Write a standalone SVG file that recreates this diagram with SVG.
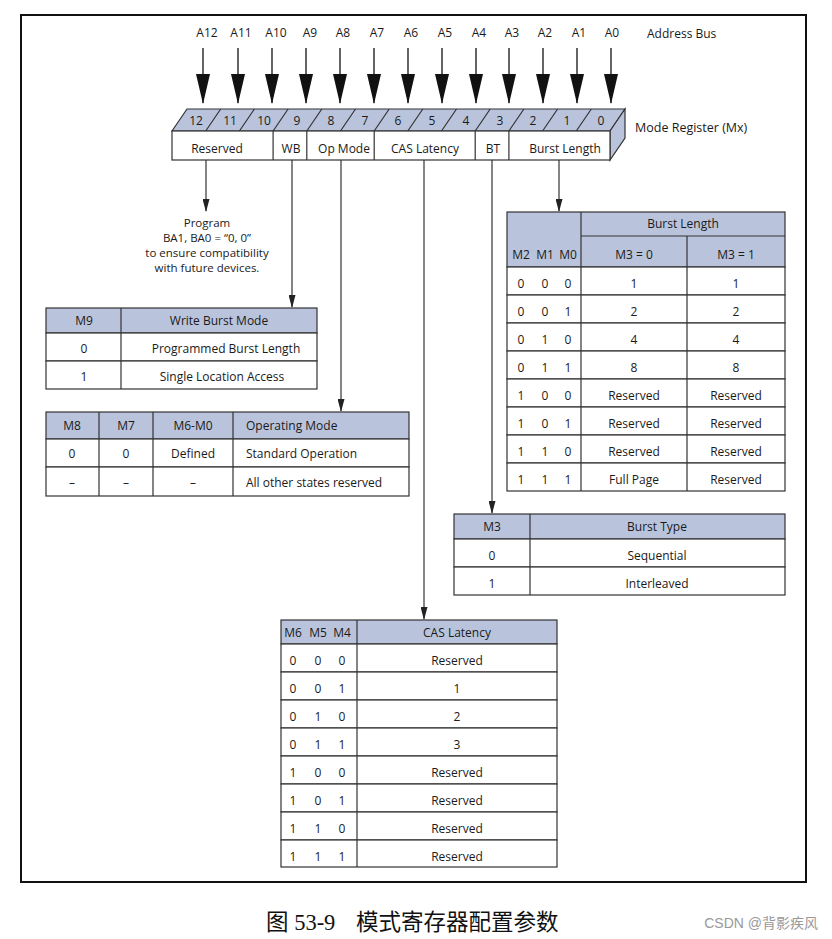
<svg xmlns="http://www.w3.org/2000/svg" width="832" height="939" viewBox="0 0 832 939">
<defs>
<style>
text{font-family:"Open Sans","Noto Sans","Liberation Sans",sans-serif;font-size:12px;fill:#1a1a1a;}
.c{text-anchor:middle;}
.hd{fill:#b9c4dc;stroke:#333;stroke-width:1.2;}
.cell{fill:#fff;stroke:#333;stroke-width:1.2;}
.ln{stroke:#333;stroke-width:1.2;fill:none;}
.ab{stroke:#111;stroke-width:1.3;}
.cap{font-family:"Liberation Serif","Noto Sans CJK SC",serif;font-size:22.5px;fill:#111;}
.note{font-size:11.5px;}
</style>
<marker id="bh" markerUnits="userSpaceOnUse" markerWidth="30" markerHeight="14" refX="29" refY="7" orient="auto" viewBox="0 0 30 14">
<path d="M0,0 L30,7 L0,14 Z" fill="#111"/>
</marker>
<marker id="sh" markerUnits="userSpaceOnUse" markerWidth="13" markerHeight="7" refX="12" refY="3.5" orient="auto" viewBox="0 0 13 7">
<path d="M0,0 L13,3.5 L0,7 Z" fill="#222"/>
</marker>
</defs>
<rect x="0" y="0" width="832" height="939" fill="#fff"/>
<rect x="21" y="15" width="785" height="867" fill="none" stroke="#111" stroke-width="2"/>

<g id="address-bus">
<text x="207" y="37" class="c">A12</text>
<text x="241" y="37" class="c">A11</text>
<text x="276" y="37" class="c">A10</text>
<text x="310" y="37" class="c">A9</text>
<text x="343" y="37" class="c">A8</text>
<text x="377" y="37" class="c">A7</text>
<text x="411" y="37" class="c">A6</text>
<text x="445" y="37" class="c">A5</text>
<text x="479" y="37" class="c">A4</text>
<text x="512" y="37" class="c">A3</text>
<text x="545" y="37" class="c">A2</text>
<text x="579" y="37" class="c">A1</text>
<text x="612" y="37" class="c">A0</text>
<text x="647" y="38">Address Bus</text>
</g>

<g id="bus-arrows">
<line class="ab" x1="203" y1="48" x2="203" y2="103" marker-end="url(#bh)"/>
<line class="ab" x1="238" y1="48" x2="238" y2="103" marker-end="url(#bh)"/>
<line class="ab" x1="272" y1="48" x2="272" y2="103" marker-end="url(#bh)"/>
<line class="ab" x1="306" y1="48" x2="306" y2="103" marker-end="url(#bh)"/>
<line class="ab" x1="340" y1="48" x2="340" y2="103" marker-end="url(#bh)"/>
<line class="ab" x1="374" y1="48" x2="374" y2="103" marker-end="url(#bh)"/>
<line class="ab" x1="408" y1="48" x2="408" y2="103" marker-end="url(#bh)"/>
<line class="ab" x1="442" y1="48" x2="442" y2="103" marker-end="url(#bh)"/>
<line class="ab" x1="476" y1="48" x2="476" y2="103" marker-end="url(#bh)"/>
<line class="ab" x1="509" y1="48" x2="509" y2="103" marker-end="url(#bh)"/>
<line class="ab" x1="543" y1="48" x2="543" y2="103" marker-end="url(#bh)"/>
<line class="ab" x1="577" y1="48" x2="577" y2="103" marker-end="url(#bh)"/>
<line class="ab" x1="611" y1="48" x2="611" y2="103" marker-end="url(#bh)"/>
</g>

<g id="mode-register">
<polygon class="hd" points="172,131 187,109 625,109 610,131"/>
<polygon class="hd" points="610,131 625,109 625,138 610,160"/>
<rect class="cell" x="172" y="131" width="438" height="29"/>
<path class="ln" d="M205.7,131 L220.7,109 M239.4,131 L254.4,109 M273.1,131 L288.1,109 M306.8,131 L321.8,109 M340.5,131 L355.5,109 M374.2,131 L389.2,109 M407.8,131 L422.8,109 M441.5,131 L456.5,109 M475.2,131 L490.2,109 M508.9,131 L523.9,109 M542.6,131 L557.6,109 M576.3,131 L591.3,109"/>
<path class="ln" d="M273.1,131 V160 M306.8,131 V160 M374.2,131 V160 M475.2,131 V160 M508.9,131 V160"/>
<text x="196" y="125" class="c">12</text>
<text x="230" y="125" class="c">11</text>
<text x="264" y="125" class="c">10</text>
<text x="297" y="125" class="c">9</text>
<text x="331" y="125" class="c">8</text>
<text x="365" y="125" class="c">7</text>
<text x="398" y="125" class="c">6</text>
<text x="432" y="125" class="c">5</text>
<text x="466" y="125" class="c">4</text>
<text x="500" y="125" class="c">3</text>
<text x="533" y="125" class="c">2</text>
<text x="567" y="125" class="c">1</text>
<text x="601" y="125" class="c">0</text>
<text x="217" y="153" class="c">Reserved</text>
<text x="291" y="153" class="c">WB</text>
<text x="344" y="153" class="c">Op Mode</text>
<text x="425" y="153" class="c">CAS Latency</text>
<text x="493" y="153" class="c">BT</text>
<text x="565" y="153" class="c">Burst Length</text>
<text x="635" y="132" style="font-size:12.5px">Mode Register (Mx)</text>
</g>

<g id="connectors">
<line class="ln" x1="206" y1="160" x2="206" y2="211" marker-end="url(#sh)"/>
<line class="ln" x1="292" y1="160" x2="292" y2="307" marker-end="url(#sh)"/>
<line class="ln" x1="341" y1="160" x2="341" y2="411" marker-end="url(#sh)"/>
<line class="ln" x1="424" y1="160" x2="424" y2="619" marker-end="url(#sh)"/>
<line class="ln" x1="492" y1="160" x2="492" y2="513" marker-end="url(#sh)"/>
<line class="ln" x1="559" y1="160" x2="559" y2="211" marker-end="url(#sh)"/>
</g>

<g id="reserved-note">
<text x="207" y="227" class="c note">Program</text>
<text x="207" y="242" class="c note">BA1, BA0 = “0, 0”</text>
<text x="207" y="257" class="c note">to ensure compatibility</text>
<text x="207" y="272" class="c note">with future devices.</text>
</g>

<g id="wb-table">
<rect class="hd" x="46" y="308" width="271" height="25"/>
<rect class="cell" x="46" y="333" width="271" height="28"/>
<rect class="cell" x="46" y="361" width="271" height="28"/>
<line class="ln" x1="121" y1="308" x2="121" y2="389"/>
<text x="84" y="325" class="c">M9</text>
<text x="219" y="325" class="c">Write Burst Mode</text>
<text x="84" y="353" class="c">0</text>
<text x="226" y="353" class="c">Programmed Burst Length</text>
<text x="84" y="381" class="c">1</text>
<text x="222" y="381" class="c">Single Location Access</text>
</g>

<g id="opmode-table">
<rect class="hd" x="46" y="412" width="363" height="27"/>
<rect class="cell" x="46" y="439" width="363" height="28"/>
<rect class="cell" x="46" y="467" width="363" height="29"/>
<path class="ln" d="M99,412 V496 M153,412 V496 M233,412 V496"/>
<text x="72" y="430" class="c">M8</text>
<text x="126" y="430" class="c">M7</text>
<text x="193" y="430" class="c">M6-M0</text>
<text x="246" y="430">Operating Mode</text>
<text x="72" y="458" class="c">0</text>
<text x="126" y="458" class="c">0</text>
<text x="193" y="458" class="c">Defined</text>
<text x="246" y="458">Standard Operation</text>
<text x="72" y="487" class="c">–</text>
<text x="126" y="487" class="c">–</text>
<text x="193" y="487" class="c">–</text>
<text x="246" y="487">All other states reserved</text>
</g>

<g id="burst-length-table">
<rect class="hd" x="507" y="212" width="278" height="55"/>
<line class="ln" x1="581" y1="236" x2="785" y2="236"/>
<line class="ln" x1="581" y1="212" x2="581" y2="491"/>
<line class="ln" x1="687" y1="236" x2="687" y2="491"/>
<rect class="cell" x="507" y="267" width="278" height="28"/>
<rect class="cell" x="507" y="295" width="278" height="28"/>
<rect class="cell" x="507" y="323" width="278" height="28"/>
<rect class="cell" x="507" y="351" width="278" height="28"/>
<rect class="cell" x="507" y="379" width="278" height="28"/>
<rect class="cell" x="507" y="407" width="278" height="28"/>
<rect class="cell" x="507" y="435" width="278" height="28"/>
<rect class="cell" x="507" y="463" width="278" height="28"/>
<path class="ln" d="M581,267 V491 M687,267 V491"/>
<text x="683" y="228" class="c">Burst Length</text>
<text x="521" y="259" class="c">M2</text>
<text x="545" y="259" class="c">M1</text>
<text x="568" y="259" class="c">M0</text>
<text x="634" y="259" class="c">M3 = 0</text>
<text x="736" y="259" class="c">M3 = 1</text>
<text x="521" y="288" class="c">0</text><text x="545" y="288" class="c">0</text><text x="568" y="288" class="c">0</text><text x="634" y="288" class="c">1</text><text x="736" y="288" class="c">1</text>
<text x="521" y="316" class="c">0</text><text x="545" y="316" class="c">0</text><text x="568" y="316" class="c">1</text><text x="634" y="316" class="c">2</text><text x="736" y="316" class="c">2</text>
<text x="521" y="344" class="c">0</text><text x="545" y="344" class="c">1</text><text x="568" y="344" class="c">0</text><text x="634" y="344" class="c">4</text><text x="736" y="344" class="c">4</text>
<text x="521" y="372" class="c">0</text><text x="545" y="372" class="c">1</text><text x="568" y="372" class="c">1</text><text x="634" y="372" class="c">8</text><text x="736" y="372" class="c">8</text>
<text x="521" y="400" class="c">1</text><text x="545" y="400" class="c">0</text><text x="568" y="400" class="c">0</text><text x="634" y="400" class="c">Reserved</text><text x="736" y="400" class="c">Reserved</text>
<text x="521" y="428" class="c">1</text><text x="545" y="428" class="c">0</text><text x="568" y="428" class="c">1</text><text x="634" y="428" class="c">Reserved</text><text x="736" y="428" class="c">Reserved</text>
<text x="521" y="456" class="c">1</text><text x="545" y="456" class="c">1</text><text x="568" y="456" class="c">0</text><text x="634" y="456" class="c">Reserved</text><text x="736" y="456" class="c">Reserved</text>
<text x="521" y="484" class="c">1</text><text x="545" y="484" class="c">1</text><text x="568" y="484" class="c">1</text><text x="634" y="484" class="c">Full Page</text><text x="736" y="484" class="c">Reserved</text>
</g>

<g id="burst-type-table">
<rect class="hd" x="454" y="514" width="331" height="25"/>
<rect class="cell" x="454" y="539" width="331" height="28"/>
<rect class="cell" x="454" y="567" width="331" height="28"/>
<line class="ln" x1="530" y1="514" x2="530" y2="595"/>
<text x="492" y="531" class="c">M3</text>
<text x="657" y="531" class="c">Burst Type</text>
<text x="492" y="560" class="c">0</text>
<text x="657" y="560" class="c">Sequential</text>
<text x="492" y="588" class="c">1</text>
<text x="657" y="588" class="c">Interleaved</text>
</g>

<g id="cas-latency-table">
<rect class="hd" x="281" y="620" width="276" height="24"/>
<rect class="cell" x="281" y="644" width="276" height="28"/>
<rect class="cell" x="281" y="672" width="276" height="28"/>
<rect class="cell" x="281" y="700" width="276" height="28"/>
<rect class="cell" x="281" y="728" width="276" height="28"/>
<rect class="cell" x="281" y="756" width="276" height="28"/>
<rect class="cell" x="281" y="784" width="276" height="28"/>
<rect class="cell" x="281" y="812" width="276" height="28"/>
<rect class="cell" x="281" y="840" width="276" height="27"/>
<line class="ln" x1="357" y1="620" x2="357" y2="867"/>
<text x="293" y="637" class="c">M6</text>
<text x="318" y="637" class="c">M5</text>
<text x="342" y="637" class="c">M4</text>
<text x="457" y="637" class="c">CAS Latency</text>
<text x="293" y="665" class="c">0</text><text x="318" y="665" class="c">0</text><text x="342" y="665" class="c">0</text><text x="457" y="665" class="c">Reserved</text>
<text x="293" y="693" class="c">0</text><text x="318" y="693" class="c">0</text><text x="342" y="693" class="c">1</text><text x="457" y="693" class="c">1</text>
<text x="293" y="721" class="c">0</text><text x="318" y="721" class="c">1</text><text x="342" y="721" class="c">0</text><text x="457" y="721" class="c">2</text>
<text x="293" y="749" class="c">0</text><text x="318" y="749" class="c">1</text><text x="342" y="749" class="c">1</text><text x="457" y="749" class="c">3</text>
<text x="293" y="777" class="c">1</text><text x="318" y="777" class="c">0</text><text x="342" y="777" class="c">0</text><text x="457" y="777" class="c">Reserved</text>
<text x="293" y="805" class="c">1</text><text x="318" y="805" class="c">0</text><text x="342" y="805" class="c">1</text><text x="457" y="805" class="c">Reserved</text>
<text x="293" y="833" class="c">1</text><text x="318" y="833" class="c">1</text><text x="342" y="833" class="c">0</text><text x="457" y="833" class="c">Reserved</text>
<text x="293" y="861" class="c">1</text><text x="318" y="861" class="c">1</text><text x="342" y="861" class="c">1</text><text x="457" y="861" class="c">Reserved</text>
</g>

<g id="caption">
<text x="266" y="930" class="cap">图 53-9</text>
<text x="356" y="930" class="cap" style="font-family:'Noto Sans CJK SC',sans-serif;">模式寄存器配置参数</text>
<text x="818" y="928" text-anchor="end" style="font-family:'Liberation Sans','Noto Sans CJK SC',sans-serif;font-size:14px;fill:#999;">CSDN @背影疾风</text>
</g>
</svg>
